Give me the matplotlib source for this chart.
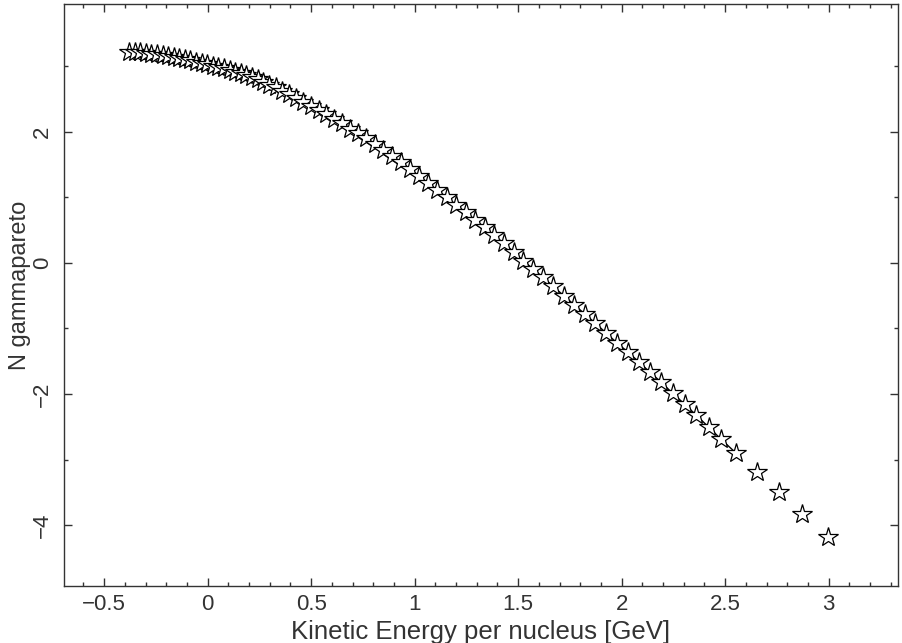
import matplotlib
matplotlib.use('Agg')
import matplotlib.pyplot as plt
from matplotlib.ticker import MultipleLocator

# star points
x_values = [-0.380, -0.353, -0.326, -0.299, -0.272, -0.245, -0.218, -0.191, -0.164, -0.137,
            -0.110, -0.083, -0.056, -0.029, -0.002, 0.025, 0.052, 0.079, 0.106, 0.133,
            0.160, 0.187, 0.214, 0.241, 0.268,
            0.298, 0.329, 0.361, 0.394, 0.428, 0.463, 0.499, 0.536, 0.573, 0.611,
            0.649, 0.688, 0.727, 0.767, 0.807, 0.848, 0.889,
            0.932, 0.976, 1.020, 1.065, 1.110, 1.155, 1.200, 1.246, 1.292, 1.338,
            1.384, 1.431, 1.478, 1.525, 1.572, 1.620,
            1.670, 1.720, 1.771, 1.822, 1.873, 1.925, 1.977, 2.030, 2.083, 2.137,
            2.191, 2.246, 2.306, 2.359, 2.422, 2.480,
            2.552, 2.654, 2.760, 2.871, 2.997]

y_values = [3.22, 3.215, 3.21, 3.20, 3.19, 3.18, 3.17, 3.155, 3.14, 3.12,
            3.105, 3.09, 3.07, 3.05, 3.03, 3.01, 2.99, 2.97, 2.944, 2.92,
            2.89, 2.86, 2.83, 2.80, 2.76,
            2.72, 2.68, 2.63, 2.58, 2.52, 2.46, 2.40, 2.34, 2.27, 2.20,
            2.13, 2.05, 1.98, 1.90, 1.82, 1.72, 1.63,
            1.54, 1.44, 1.33, 1.22, 1.11, 1.00, 0.89, 0.77, 0.66, 0.54,
            0.42, 0.30, 0.17, 0.03, -0.09, -0.22,
            -0.36, -0.50, -0.64, -0.78, -0.92, -1.07, -1.22, -1.36, -1.51, -1.67,
            -1.82, -1.99, -2.16, -2.32, -2.51, -2.69,
            -2.90, -3.19, -3.50, -3.83, -4.18]

# the joining line stops at this many points
n_line = 75

plt.rcParams['font.family'] = ['Liberation Sans', 'DejaVu Sans']

fig = plt.figure(figsize=(9.02, 6.43), dpi=100)
ax = fig.add_axes([64/902, 1 - 586/643, 834/902, 582/643])

ax.plot(x_values[:n_line], y_values[:n_line], color='black', lw=1.0, zorder=2)
ax.plot(x_values, y_values, linestyle='none', marker='*', ms=15,
        mfc='white', mec='black', mew=0.9, zorder=3)

ax.set_xlim(-0.694, 3.335)
ax.set_ylim(-4.93, 3.95)

ax.xaxis.set_major_locator(MultipleLocator(0.5))
ax.xaxis.set_minor_locator(MultipleLocator(0.1))
ax.yaxis.set_major_locator(MultipleLocator(2))
ax.yaxis.set_minor_locator(MultipleLocator(1))
ax.xaxis.set_major_formatter(lambda v, p: ('%g' % v).replace('-', '\u2212'))
ax.yaxis.set_major_formatter(lambda v, p: ('%g' % v).replace('-', '\u2212'))

ax.tick_params(which='both', direction='in', top=True, right=True,
               color='#333333', width=1.0, labelsize=16, labelcolor='#333333')
ax.tick_params(which='major', length=6)
ax.tick_params(which='minor', length=3)
ax.tick_params(axis='x', pad=6)
ax.tick_params(axis='y', pad=8)
for lab in ax.get_yticklabels():
    lab.set_rotation(90)
    lab.set_va('center')

for sp in ax.spines.values():
    sp.set_color('#333333')
    sp.set_linewidth(1.0)

ax.set_xlabel('Kinetic Energy per nucleus [GeV]', fontsize=18.5, color='#333333')
ax.set_ylabel('N gammapareto', fontsize=17, color='#333333')
ax.xaxis.set_label_coords(0.5, -0.058)
ax.yaxis.set_label_coords(-0.040, 0.517)

fig.savefig('out.png', dpi=100)
